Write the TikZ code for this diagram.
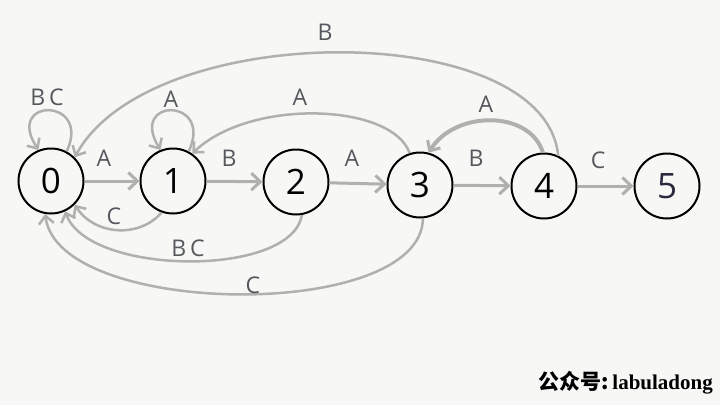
\documentclass[tikz,border=0pt]{standalone}
\usepackage{fontspec}
\setmainfont{Open Sans}
\newfontfamily\cjkfont{Noto Sans CJK SC}
\newfontfamily\wmfont{Liberation Serif}
\usetikzlibrary{arrows.meta}
\definecolor{edgegray}{HTML}{B0B0AE}
\definecolor{labgray}{HTML}{55585C}
\definecolor{bgc}{HTML}{F7F7F5}
\tikzset{
  state/.style={circle,draw=black,line width=2pt,minimum size=65pt,inner sep=0pt,font=\fontsize{35}{35}\selectfont},
  tr/.style={draw=edgegray,line width=3pt,-{Straight Barb[length=9pt,width=17pt,line width=3pt]}},
  ctr/.style={draw=edgegray,line width=2.5pt,-{Straight Barb[length=8pt,width=15pt,line width=2.5pt]}},
  lab/.style={text=labgray,font=\fontsize{23}{23}\selectfont,inner sep=0pt}
}
\begin{document}
\begin{tikzpicture}[x=1pt,y=-1pt]
\fill[bgc] (0,0) rectangle (720,405);
\useasboundingbox (0,0) rectangle (720,405);
\node[state] (n0) at (51,181) {0};
\node[state] (n1) at (173,181) {1};
\node[state] (n2) at (296,182) {2};
\node[state] (n3) at (420,185) {3};
\node[state] (n4) at (544,186) {4};
\node[state] (n5) at (667,186) {\textcolor[HTML]{2A2A3E}{5}};
% straight edges
\draw[tr] (n0) -- (n1);
\draw[tr] (n1) -- (n2);
\draw[tr] (n2) -- (n3);
\draw[tr] (n3) -- (n4);
\draw[tr] (n4) -- (n5);
\node[lab] (la01) at (104,158) {A};
\node[lab] (lb12) at (229,158) {B};
\node[lab] (la23) at (352,158) {A};
\node[lab] (lb34) at (476,158) {B};
\node[lab] (lc45) at (598,160) {C};
% self loops
\draw[ctr] (n0.62) .. controls (92,97) and (4,97) .. (n0.112);
\node[lab] (lbc0) at (47,97) {B\,C};
\draw[ctr] (n1.62) .. controls (214,97) and (128,97) .. (n1.112);
\node[lab] (la11) at (171,99) {A};
% back edges
\draw[ctr] (n1.-110) .. controls (140,238) and (95,236) .. (n0.-45);
\node[lab] (lc10) at (114,216) {C};
\draw[ctr] (n2.-80) .. controls (292,278) and (88,276) .. (n0.-65);
\node[lab] (lbc20) at (188,248) {B\,C};
\draw[ctr] (n3.-85) .. controls (422,322) and (58,318) .. (n0.-100);
\node[lab] (lc30) at (253,285) {C};
\draw[ctr] (n3.108) .. controls (392,103) and (250,98) .. (n1.55);
\node[lab] (la31) at (300,97) {A};
\draw[draw=edgegray,line width=4pt,-{Straight Barb[length=8pt,width=15pt,line width=3pt]}] (n4.92) .. controls (530,110) and (455,110) .. (n3.75);
\node[lab] (la43) at (486,104) {A};
\draw[ctr] (n4.65) .. controls (545,18) and (150,18) .. (n0.45);
\node[lab] (lb40) at (325,32) {B};
% watermark
\node[anchor=east,inner sep=0pt,font=\fontsize{21}{21}\selectfont] (wm) at (713,383) {{\cjkfont\bfseries 公众号:}\,{\wmfont\bfseries labuladong}};
\end{tikzpicture}
\end{document}
